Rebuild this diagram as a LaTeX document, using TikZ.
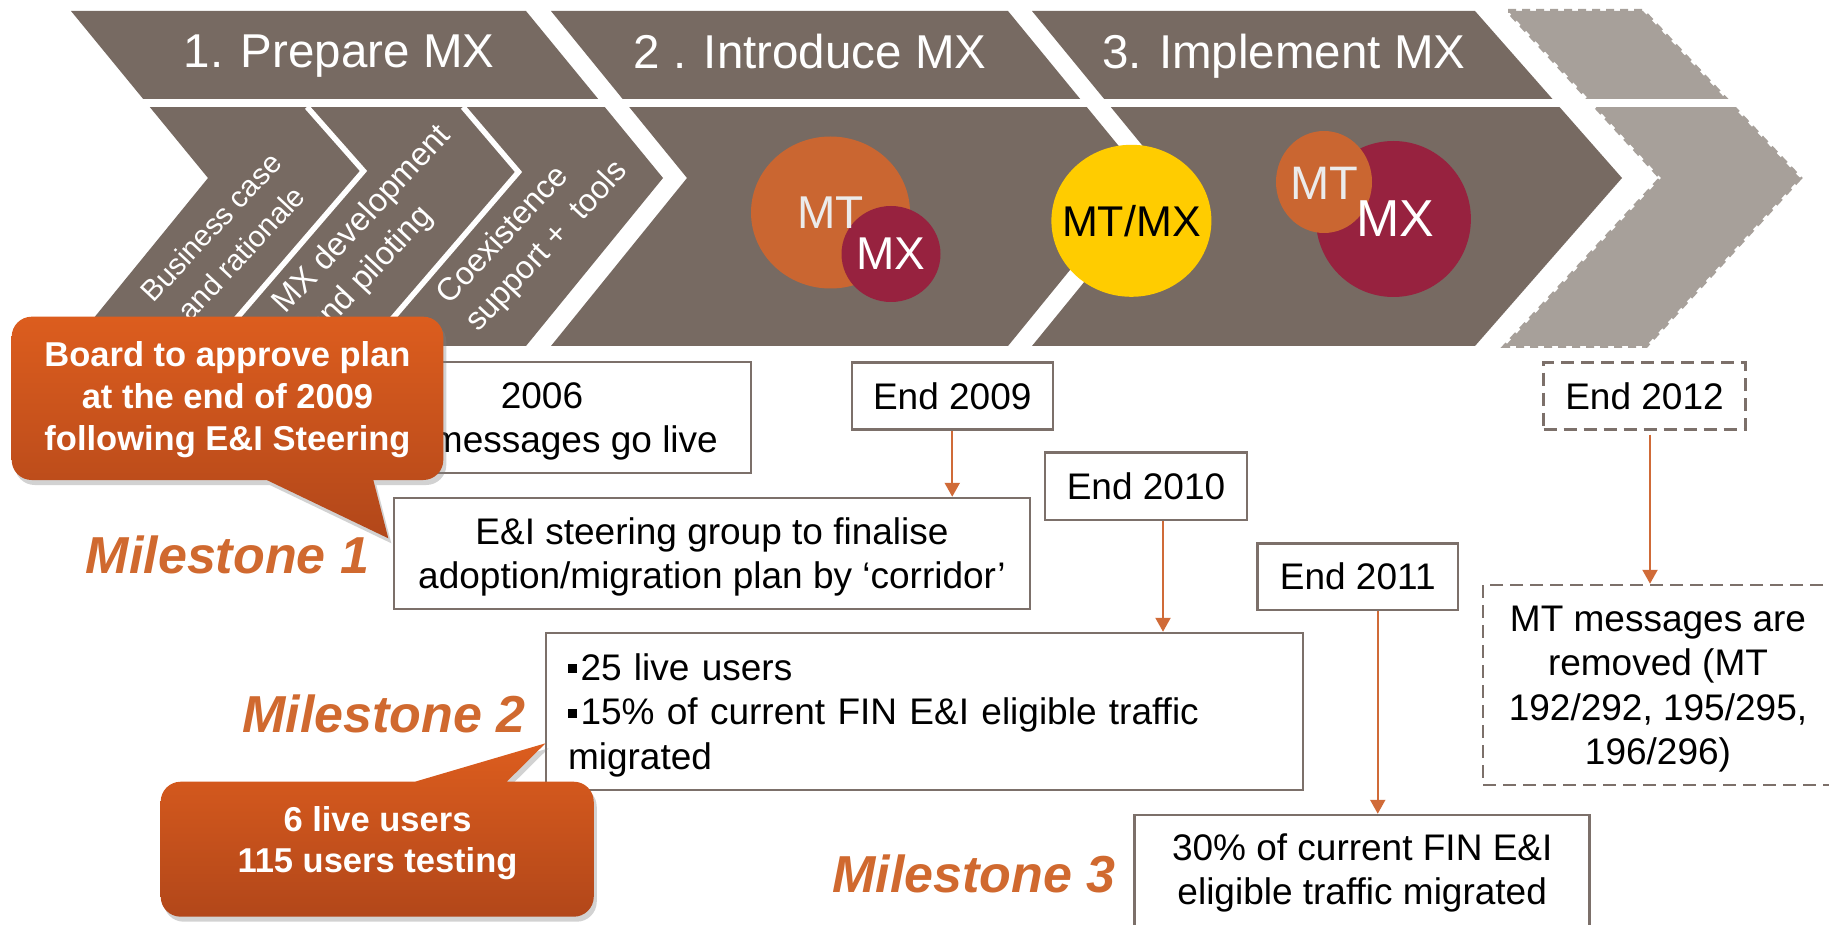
\documentclass[tikz,border=0pt]{standalone}
\usepackage{fontspec}
\setmainfont{Liberation Sans}
\usetikzlibrary{shapes.geometric,arrows.meta,shadows}
\definecolor{chev}{HTML}{776A62}
\definecolor{chevlight}{HTML}{A7A09A}
\definecolor{mtorange}{HTML}{CA6631}
\definecolor{mxred}{HTML}{97223F}
\definecolor{mtyellow}{HTML}{FFCC00}
\definecolor{msorange}{HTML}{D0692F}
\definecolor{arrorange}{HTML}{D06B38}
\definecolor{boxgray}{HTML}{7C706A}
\definecolor{calltop}{HTML}{DC5D1E}
\definecolor{callbot}{HTML}{B2471A}
\definecolor{mtgray}{HTML}{EBEBEB}
\newcommand\fs[2]{\fontsize{#1}{#2}\selectfont}
\newcommand\sqb{\raisebox{7pt}{\rule{9pt}{9pt}}\hspace{3.5pt}}
\newcommand\mlc[1]{\begin{tabular}[t]{@{}c@{}}#1\end{tabular}}
\newcommand\topup{\rule{0pt}{34pt}}
\begin{document}
\begin{tikzpicture}[x=1pt,y=-1pt,
  hdr/.style={text=white,font=\fs{47.5}{57},anchor=base,inner sep=0},
  rot/.style={text=white,anchor=base west,inner sep=0,rotate=47},
  blob/.style={ellipse,inner sep=0},
  box/.style={draw=boxgray,line width=2.5pt,fill=white,font=\fs{37}{43.5},align=center,inner sep=0},
  dbox/.style={box,dash pattern=on 13pt off 7pt},
  arr/.style={draw=arrorange,line width=2.2pt,-{Triangle[width=15pt,length=14pt]}},
  ms/.style={text=msorange,font=\fs{52}{60}\bfseries\itshape,anchor=base,inner sep=0},
  callout/.style={top color=calltop,bottom color=callbot,drop shadow={shadow xshift=3pt,shadow yshift=-5pt,opacity=0.35}},
  ctext/.style={text=white,font=\fs{34.5}{41.7}\bfseries,anchor=base,inner sep=0}
]
\useasboundingbox (0,0) rectangle (1829,925);
\fill[white] (0,0) rectangle (1829,925);

% chevrons
\fill[chev] (71,11) -- (526,11) -- (663,178) -- (526,346) -- (71,346) -- (208,178) -- cycle;
\fill[chev] (551,11) -- (1008,11) -- (1145,178) -- (1008,346) -- (551,346) -- (687,178) -- cycle;
\fill[chev] (1032,11) -- (1475,11) -- (1622,178) -- (1475,346) -- (1032,346) -- (1169,178) -- cycle;
\filldraw[fill=chevlight,draw=chevlight,line width=4pt,dash pattern=on 8pt off 6pt] (1508,11) -- (1643,11) -- (1800,178) -- (1646,346) -- (1505,346) -- (1661,178) -- cycle;
\draw[white,line width=8pt] (0,103.4) -- (1829,103.4);
\draw[white,line width=5.5pt] (307,107) -- (363.5,171) -- (212,347);
\draw[white,line width=5.5pt] (463,107) -- (518.5,172) -- (368,347);

% header texts
\node[hdr] (h1) at (339,68) {1. Prepare MX};
\node[hdr] (h2) at (810,69) {2 . Introduce MX};
\node[hdr] (h3) at (1283.7,68.3) {3. Implement MX};

% rotated sub-step texts
\node[rot,font=\fs{29.5}{35}] (r1a) at (153.5,304) {Business case};
\node[rot,font=\fs{29.5}{35}] (r1b) at (190.5,323) {and rationale};
\node[rot,font=\fs{32.5}{38}] (r2a) at (285.5,315) {MX development};
\node[rot,font=\fs{32.5}{38}] (r2b) at (320,339) {and piloting};
\node[rot,font=\fs{32}{37}] (r3a) at (449.5,306) {Coexistence};
\node[rot,font=\fs{32}{37}] (r3b) at (478.5,333) {support + \ tools};

% circles
\node[blob,fill=mtorange,minimum width=159pt,minimum height=152pt] (c1) at (830.5,212.5) {};
\node[blob,fill=mxred,minimum width=99pt,minimum height=96pt] (c2) at (891,254) {};
\node[blob,fill=mtyellow,minimum width=160pt,minimum height=152pt] (c3) at (1131.4,220.8) {};
\node[blob,fill=mxred,minimum width=155pt,minimum height=156pt] (c5) at (1393.4,219) {};
\node[blob,fill=mtorange,minimum width=96pt,minimum height=102pt] (c4) at (1324,182) {};
\node[text=mtgray,font=\fs{46}{50},inner sep=0] (t1) at (c1.center) {MT};
\node[text=white,font=\fs{46}{50},inner sep=0] (t2) at (c2.center) {MX};
\node[text=black,font=\fs{43}{50},inner sep=0] (t3) at (c3.center) {MT/MX};
\node[text=white,font=\fs{52}{56},inner sep=0] (t5) at (1395,219) {MX};
\node[text=mtgray,font=\fs{47}{50},inner sep=0] (t4) at (1324.6,183.3) {MT};

% boxes
\node[box,minimum width=418pt,minimum height=111pt] (b2006) at (542,417.5) {\topup 2006\\MX messages go live};
\node[box,minimum width=201pt,minimum height=67pt] (e2009) at (952.25,395.8) {End 2009};
\node[box,minimum width=636pt,minimum height=111pt] (ei) at (712,553.5) {\topup E\&I steering group to finalise\\adoption/migration plan by ‘corridor’};
\node[box,minimum width=202pt,minimum height=67.3pt] (e2010) at (1146,486.3) {End 2010};
\node[box,minimum width=757pt,minimum height=157pt,text width=713pt,align=left,inner xsep=22pt,font=\fs{37}{44.5}] (m2) at (924.5,711.5) {\topup\sqb 25 live users\\\sqb 15\% of current FIN E\&I eligible traffic\\migrated};
\node[box,minimum width=200.5pt,minimum height=66.5pt] (e2011) at (1357.75,576.75) {End 2011};
\node[box,minimum width=455pt,minimum height=115pt,font=\fs{37}{44}] (m3) at (1362.2,872.5) {30\% of current FIN E\&I\\eligible traffic migrated};
\node[dbox,minimum width=201.7pt,minimum height=66.6pt] (e2012) at (1644.5,396) {End 2012};
\node[dbox,minimum width=350pt,minimum height=200pt,font=\fs{37}{44.4}] (mtb) at (1658,685) {\topup MT messages are\\removed (MT\\192/292, 195/295,\\196/296)};

% arrows
\draw[arr] (e2009.south) -- (e2009.south |- ei.north);
\draw[arr] ([xshift=17pt]e2010.south) -- ([xshift=17pt]e2010.south |- m2.north);
\draw[arr] ([xshift=20pt]e2011.south) -- ([xshift=20pt]e2011.south |- m3.north);
\draw[arr] ([xshift=5.5pt,yshift=-4pt]e2012.south) -- ([xshift=5.5pt]e2012.south |- mtb.north);

% milestones
\node[ms] (ms1) at (227.5,573) {Milestone 1};
\node[ms] (ms2) at (384,732.7) {Milestone 2};
\node[ms] (ms3) at (974,892.7) {Milestone 3};

% callouts
\path[callout] (266.7,480) -- (388.3,538.3) -- (373.3,480) -- (393.3,480) [rounded corners=20pt] -- (443.3,480) -- (443.3,316.7) -- (11.7,316.7) -- (11.7,480) -- (246.7,480) [sharp corners] -- cycle;
\node[ctext] (ct1) at (227.5,366.7) {\mlc{Board to approve plan\\at the end of 2009\\following E\&I Steering}};
\path[callout] (415,781.7) -- (545.5,743.3) -- (506.7,781.7) -- (526.7,781.7) [rounded corners=20pt] -- (593.75,781.7) -- (593.75,916.7) -- (160.7,916.7) -- (160.7,781.7) -- (395,781.7) [sharp corners] -- cycle;
\node[ctext] (ct2) at (377.5,831) {\mlc{6 live users\\115 users testing}};
\end{tikzpicture}
\end{document}
